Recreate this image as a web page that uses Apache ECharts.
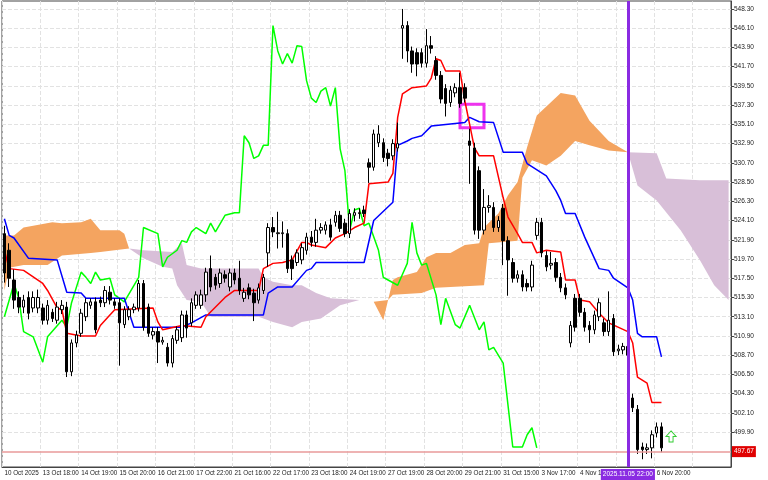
<!DOCTYPE html>
<html style="height: 100%">
<head>
<meta charset="utf-8">
<script src="https://cdn.jsdelivr.net/npm/echarts@6/dist/echarts.min.js"></script>
</head>
<body style="height: 100%; margin: 0; background: #fff">
<div id="container" style="width: 768px; height: 480px"></div>
<script type="text/javascript">
// ---- data ----
var tickLabels = ['10 Oct 2025', '13 Oct 18:00', '14 Oct 19:00', '15 Oct 20:00', '16 Oct 21:00',
    '17 Oct 22:00', '21 Oct 16:00', '22 Oct 17:00', '23 Oct 18:00', '24 Oct 19:00', '27 Oct 19:00',
    '28 Oct 20:00', '29 Oct 21:00', '31 Oct 15:00', '3 Nov 17:00', '4 Nov 18:00', '', '6 Nov 20:00'];
var priceTicks = [499.9, 502.1, 504.3, 506.5, 508.7, 510.9, 513.1, 515.3, 517.5, 519.7, 521.9, 524.1,
    526.3, 528.5, 530.7, 532.9, 535.1, 537.3, 539.5, 541.7, 543.9, 546.1, 548.3];
var slotCount = 152;
var lastPrice = 497.67;
var cursorLabel = '2025.11.05 22:00';

// [open, close, low, high]
var candles = [
[522.6,518.1,517,523.5],[520.7,517.5,516.5,521.5],[517.3,515.0,514,518.5],[515.3,514.2,513.5,516],
[514.2,515.0,513.5,515.6],[515.3,513.5,512.8,516],[514.1,515.3,513.6,516],[514.1,515.3,513.5,516.2],
[514.1,512.7,512.2,514.6],[512.7,514.4,512.2,515],[513.6,512.9,512.5,514],[512.7,514.2,512.3,514.8],
[513.9,514.4,513.4,515],[514.2,506.8,506.2,514.8],[506.8,510.1,506.3,510.5],[510.1,511.0,509.6,511.5],
[511.2,513.5,510.8,514],[513.1,514.7,512.6,515.2],[514.4,514.8,514,515.2],[514.8,511.6,511.2,515.3],
[515.0,514.7,514.2,515.4],[514.7,516.1,514.2,516.6],[515.9,515.0,514.5,516.6],[514.8,514.4,514,515.2],
[514.7,512.4,507.5,515.2],[512.2,513.9,511.8,514.3],[513.1,513.9,512.7,514.3],[513.9,514.2,513.5,514.6],
[514.1,516.9,513.7,517.3],[516.9,511.9,511.5,517.3],[514.2,511.2,510.8,514.6],[511.0,511.4,510.5,511.9],
[511.4,510.2,507.8,511.9],[510.2,510.4,509.9,510.8],[509.6,507.8,507.4,510.1],[507.8,510.6,507.3,511],
[510.4,511.6,510,512],[510.7,513.3,510.2,513.8],[513.3,511.8,510.7,513.8],[512.4,514.7,512,515.2],
[514.4,515.6,514,516],[514.4,515.6,514,516.2],
[515.6,518.2,514.8,518.7],[518.6,516.5,516,520.1],[517.6,516.7,516.2,518],[516.9,518.1,516.4,518.6],
[517.9,517.5,517,518.4],[516.5,518.1,516,518.6],[518.1,517.3,516.8,518.6],[517.5,516.1,515.6,519.5],
[515.2,515.9,514.8,516.4],[516.4,515.6,515.1,516.9],[515.8,514.7,512.6,516.3],[515.0,516.4,514.6,516.9],
[516.1,517.6,515.7,518.0],[520.4,523.3,518.8,523.8],[523.3,522.8,522.2,524.5],[522.6,522.7,520.9,525.1],
[522.6,522.7,521,524],[522.6,518.6,518.1,523.1],[519.6,518.6,517.3,520.1],[519.3,520.4,518.9,520.8],
[519.6,521.0,519.1,521.5],[520.7,522.2,520.2,522.7],[522.2,521.6,521.1,522.9],[521.6,523.0,521.1,524.3],
[523.0,523.3,522.6,523.8],[523.0,523.6,522.5,524.0],[523.6,522.2,521.8,524.3],[523.9,524.7,523.4,525.2],
[524.7,523.2,522.8,525.2],[523.8,522.6,522.2,524.3],[522.6,524.9,522.1,525.4],[524.7,525.0,524,525.5],
[524.9,525.0,524.3,525.5],[525.3,524.9,524.5,525.8],
[530.7,530.2,528.4,531.2],[530.2,534.0,529.8,534.5],[533.0,534.0,532.5,535],[533.0,531.3,530.8,533.5],
[531.8,531.2,530.3,532.3],[531.5,532.9,531.0,533.4],[532.4,532.9,532,535.3],[546.1,546.4,542.6,548.3],
[546.4,543.5,542.2,546.9],[543.5,542.0,541.0,544.0],[543.3,542.0,540.6,543.8],[543.3,542.1,541.6,543.8],
[542.1,544.1,541.6,546.0],[544.1,543.8,543.2,545.2],[542.4,540.7,540.2,542.9],[540.7,538.0,537.5,541.2],
[539.2,537.5,536.0,539.7],[537.6,539.0,537.1,539.5],[538.7,539.3,538.2,539.8],[539.3,537.5,537.0,541.0],
[539.3,538.1,537.6,539.8],[533.2,532.7,528.3,534.6],[532.4,523.0,522.5,533.0],[529.8,523.0,522.0,530.3],
[523.0,525.6,522.5,527.7],[525.6,525.8,525.0,527.0],[525.6,523.3,522.8,526.2],[523.3,524.1,522.8,524.6],
[525.5,521.8,519.0,526.0],[521.8,519.6,515.5,522.3],[519.3,517.5,517.0,519.8],[517.5,517.9,517.0,518.4],
[517.9,516.5,516.0,518.4],[516.9,516.5,516.0,517.4],[516.5,519.0,516.0,519.5],[522.4,523.9,521.9,524.4],
[523.9,520.4,519.9,524.4],
[520.1,518.8,518.3,520.6],[519.0,519.2,518.5,520.5],[519.3,517.6,517.1,519.8],[517.6,516.4,515.9,518.1],
[516.4,515.6,515.1,516.9],[510.1,512.1,509.6,512.6],[515.2,511.9,511.4,515.7],[515.2,513.6,513.1,515.7],
[513.6,511.9,511.4,514.1],[512.1,511.6,510.1,512.6],[511.6,513.3,511.1,513.8],[513.1,514.7,512.6,515.2],
[512.4,511.4,510.9,512.9],[511.4,512.7,510.9,516.0],[512.9,509.1,508.6,513.4],[509.2,509.4,508.7,509.9],
[509.3,509.7,508.8,510.1],[509.7,508.7,508.2,510.1],[503.8,502.7,502.2,504.3],[502.5,497.9,497.4,503.0],
[498.2,497.9,496.8,498.7],[497.9,498.1,497.4,498.6],[498.1,499.6,496.9,500.1],[499.8,500.5,499.3,501.0],
[500.5,498.1,497.6,501.0]
];

// [slot, price]
var tenkan = [[0,520.7],[1,518.6],[4,518.4],[8,516.9],[9,516.1],[11,514.1],[12,513.9],[13,511.2],[16,510.9],
[19,510.9],[20,512.1],[23,513.9],[31,514.1],[32,512.5],[33,511.6],[37,512.1],[41,511.9],[42,513.1],[46,515.3],
[48,516.1],[53,516.1],[54,518.6],[56,519.2],[58,519.3],[60,519.6],[62,521.6],[63,521.6],[64,521.3],[67,521.0],
[69,522.1],[71,522.6],[73,523.3],[75,523.8],[76,528.3],[80,528.5],[81,529.5],[82,535.9],[83,538.6],[85,539.3],
[88,539.5],[89,540.4],[90,542.6],[91,542.4],[92,541.2],[95,541.2],[96,537.8],[98,532.4],[99,531.5],[102,531.5],
[104,526.7],[105,524.5],[107,522.6],[108,521.6],[110,521.6],[111,520.4],[113,520.7],[116,520.5],[117,517.3],
[119,517.3],[120,515.0],[122,514.8],[124,513.5],[126,512.4],[130,511.4],[131,510.1],[132,506.2],[134,505.5],
[135,503.3],[137,503.3]];
var kijun = [[0,524.3],[1,522.4],[2,522.1],[5,519.8],[11,519.6],[13,515.9],[16,515.8],[17,515.2],[25,515.2],
[27,511.9],[37,511.9],[39,512.4],[42,513.3],[54,513.3],[55,515.8],[57,516.5],[60,516.5],[63,518.4],[64,518.6],
[65,519.3],[75,519.3],[77,524.1],[81,526.2],[82,532.7],[84,533.2],[85,533.5],[87,533.8],[89,534.9],[96,535.3],
[97,535.9],[99,535.4],[102,535.3],[104,531.9],[108,531.9],[109,530.6],[113,529.2],[115,527.5],[116,526.4],
[117,524.9],[119,524.9],[121,522.2],[124,518.6],[126,518.4],[127,517.5],[130,516.4],[131,515.0],[132,511.2],
[133,510.8],[136,510.8],[137,508.5]];
var chikou = [[0,513.1],[2,516.9],[3,515.2],[4,511.4],[6,510.8],[8,507.9],[9,510.8],[12,512.7],[13,511.9],
[14,514.7],[16,518.2],[17,517.6],[18,516.9],[19,518.2],[20,517.3],[22,517.5],[23,515.6],[25,514.8],[28,517.6],
[29,523.3],[32,522.6],[33,518.8],[34,519.9],[36,520.7],[37,521.8],[38,521.6],[39,522.8],[40,523.3],[42,522.6],
[43,523.8],[44,522.8],[46,524.7],[48,525.0],[49,525.0],[50,533.8],[51,533.0],[52,531.2],[53,531.5],[54,532.7],
[55,532.7],[56,546.4],[57,543.5],[58,542.0],[59,543.2],[60,542.1],[61,544.1],[62,544.0],[63,540.1],[64,538.1],
[65,537.6],[66,538.9],[67,539.3],[68,537.2],[69,539.3],[70,532.3],[71,529.8],[72,523.0],[73,525.3],[74,525.5],
[75,523.5],[76,523.8],[78,520.7],[79,517.6],[80,517.3],[82,516.7],[84,519.2],[85,523.9],[86,520.4],[87,519.0],
[88,519.2],[90,515.6],[91,512.2],[92,515.2],[94,512.2],[95,511.8],[97,514.4],[99,511.6],[100,512.5],[101,509.3],
[102,509.6],[104,507.8],[106,498.2],[108,498.2],[109,499.6],[110,500.4],[111,498.1]];

// cloud pieces: upper edge, lower edge
var orangeUp1 = [[0,522.4],[2,522.4],[4,523.3],[10,523.9],[12,523.8],[16,523.9],[18,524.3],[20,523.0],[24,523.0],[25,522.6],[26,520.9]];
var orangeLo1 = [[0,516.1],[1,518.7],[4,519.0],[9,519.0],[12,520.1],[18,520.4],[20,520.5],[26,520.9]];
var purpleUp1 = [[26,520.9],[29,520.7],[35,520.5],[37,521.5],[38,519.0],[41,518.6],[53,518.6],[54,517.6],[56,517.1],[60,516.7],[62,516.7],[65,515.8],[68,515.2],[74,515.0],[77,514.8]];
var purpleLo1 = [[26,520.9],[29,519.8],[33,518.8],[35,518.6],[36,516.7],[38,515.0],[41,514.8],[43,513.1],[53,513.1],[56,512.5],[60,511.9],[62,512.5],[66,512.9],[70,514.4],[74,515.0],[77,514.8]];
var orangeUp2 = [[77,514.8],[80,515.0],[81,517.3],[82,517.6],[86,518.2],[88,519.9],[90,520.4],[93,520.4],[96,521.3],[99,521.5],[100,523.3],[103,524.9],[105,527.0],[107,528.5],[109,532.5],[111,536.1],[116,538.7],[119,538.4],[122,535.5],[126,533.2],[130,531.9]];
var orangeLo2 = [[77,514.8],[79,512.7],[80,515.0],[81,515.6],[87,515.8],[90,516.4],[100,516.7],[101,521.5],[107,521.8],[108,529.0],[110,531.0],[113,530.4],[116,531.5],[119,533.2],[122,532.7],[126,532.1],[130,531.9]];
var purpleUp2 = [[130,531.9],[136,531.8],[138,528.9],[145,528.7],[151,528.7]];
var purpleLo2 = [[130,531.9],[132,528.1],[136,526.4],[141,523.0],[145,519.6],[148,516.7],[151,515.0]];

var categories = [];
for (var i = 0; i < slotCount; i++) categories.push('s' + i);

var dom = document.getElementById('container');
var myChart = echarts.init(dom);

function cloud(up, lo, color) {
    return {
        type: 'custom',
        silent: true,
        z: 1,
        data: [[up[0][0], up[0][1]]],
        renderItem: function (params, api) {
            var pts = up.map(function (d) { return api.coord(d); })
                .concat(lo.slice().reverse().map(function (d) { return api.coord(d); }));
            return { type: 'polygon', shape: { points: pts }, style: { fill: color } };
        }
    };
}

function ichiLine(data, color) {
    return {
        type: 'line', data: data, showSymbol: false, z: 3, silent: true,
        lineStyle: { color: color, width: 1.5 }
    };
}

var option = {
    animation: false,
    backgroundColor: '#fff',
    grid: { left: 2, right: 37, top: 1, bottom: 13, show: true, borderColor: '#444', borderWidth: 1 },
    xAxis: {
        type: 'category',
        data: categories,
        boundaryGap: true,
        axisLine: { lineStyle: { color: '#444' } },
        axisTick: { interval: 7, length: 3, lineStyle: { color: '#444' } },
        axisLabel: {
            interval: 7, fontSize: 6.3, color: '#222', margin: 3, align: 'left', fontFamily: 'Liberation Sans',
            formatter: function (v, idx) { return tickLabels[idx / 8] || ''; }
        },
        splitLine: { show: true, interval: 7, lineStyle: { color: '#e2e2e2', type: 'dashed' } }
    },
    yAxis: {
        type: 'value',
        position: 'right',
        min: 495.91,
        max: 549.21,
        axisLine: { show: true, lineStyle: { color: '#444' } },
        axisTick: { show: true, length: 3, customValues: priceTicks, lineStyle: { color: '#444' } },
        axisLabel: {
            customValues: priceTicks, fontSize: 6.5, color: '#222', margin: 3, fontFamily: 'Liberation Sans',
            formatter: function (v) { return v.toFixed(2); }
        },
        splitLine: { show: true, lineStyle: { color: '#e2e2e2', type: 'dashed' } }
    },
    series: [
        cloud(orangeUp1, orangeLo1, '#F4A460'),
        cloud(purpleUp1, purpleLo1, '#D8BFD8'),
        cloud(orangeUp2, orangeLo2, '#F4A460'),
        cloud(purpleUp2, purpleLo2, '#D8BFD8'),
        ichiLine(chikou, '#00FF00'),
        ichiLine(kijun, '#0000FF'),
        ichiLine(tenkan, '#FF0000'),
        {
            type: 'candlestick',
            data: candles,
            barWidth: 3,
            z: 4,
            itemStyle: {
                color: '#ffffff', color0: '#000000',
                borderColor: '#000000', borderColor0: '#000000', borderWidth: 1
            },
            markLine: {
                symbol: 'none',
                silent: true,
                data: [
                    {
                        yAxis: lastPrice,
                        lineStyle: { color: '#e89a9a', width: 1.5, type: 'solid' },
                        label: {
                            position: 'end', formatter: lastPrice.toFixed(2), color: '#fff',
                            backgroundColor: '#e00000', fontSize: 6.5, padding: [2, 2], distance: 1
                        }
                    },
                    {
                        xAxis: 130,
                        lineStyle: { color: '#8a2be2', width: 3, type: 'solid' },
                        label: {
                            position: 'start', formatter: cursorLabel, color: '#fff',
                            backgroundColor: '#8a2be2', fontSize: 6.5, padding: [2, 2], distance: 2
                        }
                    }
                ]
            },
            markArea: {
                silent: true,
                itemStyle: { color: 'rgba(0,0,0,0)', borderColor: '#ee33ee', borderWidth: 3 },
                data: [[{ xAxis: 95, yAxis: 537.4 }, { xAxis: 100, yAxis: 534.7 }]]
            },
            markPoint: {
                silent: true,
                symbol: 'path://M5,0 L10,5 L7,5 L7,10 L3,10 L3,5 L0,5 Z',
                symbolSize: [10, 11],
                itemStyle: { color: '#fff', borderColor: '#33cc33', borderWidth: 1 },
                label: { show: false },
                data: [{ coord: [139, 499.4] }]
            }
        }
    ]
};

myChart.setOption(option);
</script>
</body>
</html>
